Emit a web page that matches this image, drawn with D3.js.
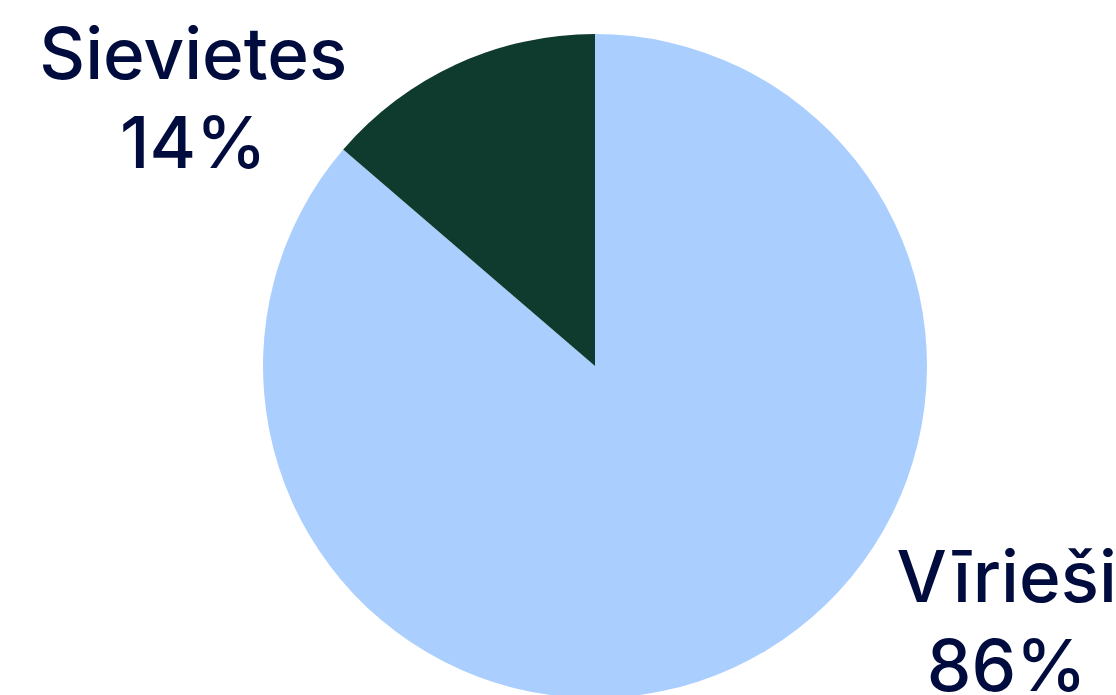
<!DOCTYPE html>
<html lang="lv">
<head>
  <meta charset="utf-8">
  <title>Sievietes un vīrieši</title>
  <script src="https://d3js.org/d3.v7.min.js"></script>
  <style>
    html, body { margin: 0; padding: 0; background: #ffffff; }
    svg { display: block; }
    .lbl { font-family: "Inter", "Open Sans", sans-serif; font-weight: 500; fill: #000c3d; }
  </style>
</head>
<body>
  <div id="chart"></div>
  <script>
    // data
    var categories = ["Vīrieši", "Sievietes"];
    var values = [86.3, 13.7];
    var percentLabels = ["86%", "14%"];
    var colors = ["#aacfff", "#0f3a2e"];

    var width = 1116, height = 695;
    var cx = 595, cy = 366, radius = 332;

    var svg = d3.select("#chart")
      .append("svg")
      .attr("width", width)
      .attr("height", height);

    var g = svg.append("g")
      .attr("transform", "translate(" + cx + "," + cy + ")");

    var data = categories.map(function (c, i) {
      return { name: c, value: values[i], pct: percentLabels[i], color: colors[i] };
    });

    var pie = d3.pie()
      .sort(null)
      .value(function (d) { return d.value; });

    var arc = d3.arc().innerRadius(0).outerRadius(radius);

    g.selectAll("path")
      .data(pie(data))
      .enter()
      .append("path")
      .attr("d", arc)
      .attr("fill", function (d) { return d.data.color; });

    // label positions, relative to pie centre (in radius units)
    var labelPos = {
      "Vīrieši": { x: 1.24, y: 0.71 },
      "Sievietes": { x: -1.21, y: -0.865 }
    };

    var labels = svg.selectAll("text.lbl")
      .data(data)
      .enter()
      .append("text")
      .attr("class", "lbl")
      .attr("text-anchor", "middle")
      .style("font-size", "71px")
      .attr("x", function (d) { return cx + labelPos[d.name].x * radius; })
      .attr("y", function (d) { return cy + labelPos[d.name].y * radius; });

    labels.append("tspan")
      .attr("x", function (d) { return cx + labelPos[d.name].x * radius; })
      .text(function (d) { return d.name; });
    labels.append("tspan")
      .attr("x", function (d) { return cx + labelPos[d.name].x * radius; })
      .attr("dy", 89)
      .text(function (d) { return d.pct; });
  </script>
</body>
</html>
